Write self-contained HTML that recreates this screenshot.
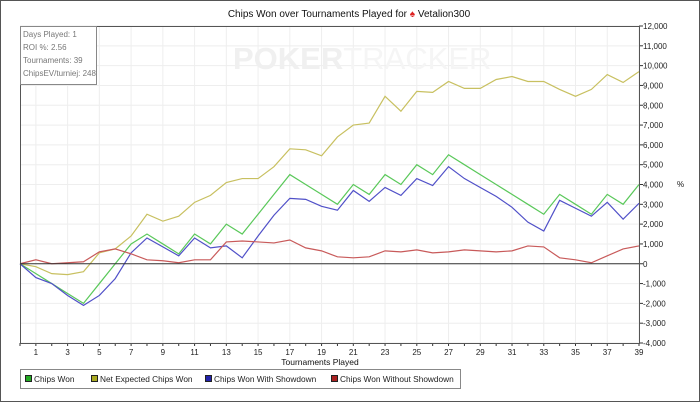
<!DOCTYPE html>
<html><head><meta charset="utf-8"><style>
body{margin:0;background:#fff;font-family:"Liberation Sans",sans-serif}
svg text{font-family:"Liberation Sans",sans-serif}
</style></head><body>
<svg id="c" width="700" height="402" xmlns="http://www.w3.org/2000/svg">
<rect x="0.5" y="0.5" width="699" height="401" fill="#fff" stroke="#555"/>
<text x="349" y="17" font-size="10" text-anchor="middle" fill="#111">Chips Won over Tournaments Played for <tspan fill="#d22">♠</tspan> Vetalion300</text>
<g id="grid"></g>
<text x="233" y="69" font-size="31" font-weight="bold" fill="#f0f0f0">POKER<tspan font-weight="normal" fill="#f5f5f5">TRACKER</tspan></text>
<g id="series"></g>
<g id="axes"></g>
<g>
<rect x="20.5" y="26.5" width="76" height="58" fill="#fff" stroke="#888"/>
<text x="23" y="37" font-size="8" fill="#777">Days Played: 1</text>
<text x="23" y="50" font-size="8" fill="#777">ROI %: 2.56</text>
<text x="23" y="63" font-size="8" fill="#777">Tournaments: 39</text>
<text x="23" y="76" font-size="8" fill="#777">ChipsEV/turniej: 248</text>
</g>
<text x="320" y="365" font-size="8.5" text-anchor="middle" fill="#111">Tournaments Played</text>
<text x="677" y="187" font-size="8" fill="#111">%</text>
<g>
<rect x="20.5" y="369.5" width="440" height="19" fill="#fff" stroke="#888"/>
<g id="legend"></g>
</g>
</svg>
<script>
const categories=[];for(let i=0;i<=39;i++)categories.push(i);
const chipsWon=[0,-500,-1000,-1500,-2000,-1000,0,1000,1500,1000,500,1500,1000,2000,1500,2500,3500,4500,4000,3500,3000,4000,3500,4500,4000,5000,4500,5500,5000,4500,4000,3500,3000,2500,3500,3000,2500,3500,3000,4000];
const netExpected=[0,-150,-500,-550,-400,550,750,1400,2500,2150,2400,3100,3450,4100,4300,4300,4900,5800,5750,5450,6400,7000,7100,8450,7700,8700,8650,9200,8850,8850,9300,9450,9200,9200,8800,8450,8800,9550,9150,9700];
const withShowdown=[0,-700,-1000,-1600,-2100,-1600,-750,550,1300,850,400,1300,800,900,300,1400,2450,3300,3250,2900,2700,3700,3150,3850,3450,4300,3950,4900,4300,3850,3400,2850,2100,1650,3200,2800,2400,3100,2250,3050];
const withoutShowdown=[0,200,0,50,100,600,750,500,200,150,50,200,200,1100,1150,1100,1050,1200,800,650,350,300,350,650,600,700,550,600,700,650,600,650,900,850,300,200,50,400,750,900];
const yTicks=[-4000,-3000,-2000,-1000,0,1000,2000,3000,4000,5000,6000,7000,8000,9000,10000,11000,12000];
const xTicks=[1,3,5,7,9,11,13,15,17,19,21,23,25,27,29,31,33,35,37,39];
const seriesNames=["Chips Won","Net Expected Chips Won","Chips Won With Showdown","Chips Won Without Showdown"];
const NS="http://www.w3.org/2000/svg";
const L=20,R=639,T=26,B=343;
const X=i=>L+(R-L)*i/39;
const Y=v=>B-(B-T)*(v+4000)/16000;
function mk(tag,at,parent){const e=document.createElementNS(NS,tag);for(const k in at)e.setAttribute(k,at[k]);parent.appendChild(e);return e;}
const grid=document.getElementById('grid'),axes=document.getElementById('axes'),ser=document.getElementById('series'),leg=document.getElementById('legend');
yTicks.forEach(v=>{
 const g=mk('line',{x1:L,x2:R,y1:Y(v),y2:Y(v),stroke:'#eee'},grid);
 
 
 mk('line',{x1:R,x2:R+4,y1:Y(v),y2:Y(v),stroke:'#333'},axes);
 const t=mk('text',{x:R+4,y:Y(v)+3,'font-size':'8',fill:'#222'},axes);
 t.textContent=v.toLocaleString('en-US');
 
 
});
xTicks.forEach(i=>{
 const g=mk('line',{x1:X(i),x2:X(i),y1:T,y2:B,stroke:'#eee'},grid);
 
 
 const t=mk('text',{x:X(i),y:B+12,'font-size':'8','text-anchor':'middle',fill:'#222'},axes);
 t.textContent=i;
 
 
});
categories.forEach(i=>{mk('line',{x1:X(i),x2:X(i),y1:B,y2:B+3,stroke:'#333'},axes);});
mk('rect',{x:L+0.5,y:T+0.5,width:R-L,height:B-T,fill:'none',stroke:'#555'},axes);
mk('line',{x1:L,x2:R,y1:Y(0),y2:Y(0),stroke:'#333'},axes);
const data=[chipsWon,netExpected,withShowdown,withoutShowdown];
const colors=['#5ac85a','#c8c060','#5050c8','#c85a5a'];
const sw=['#2a2','#aa2','#22a','#a22'];
const names=['chips-won-line','net-expected-line','with-showdown-line','without-showdown-line'];
[1,0,2,3].forEach(s=>{
 const p=mk('polyline',{points:data[s].map((v,i)=>X(categories[i])+','+Y(v)).join(' '),fill:'none',stroke:colors[s],'stroke-width':'1.2'},ser);
 
 
});
const lx=[25,91,205,331];
seriesNames.forEach((n,s)=>{
 const g=mk('g',{},leg);
 
 
 mk('rect',{x:lx[s]+0.5,y:375.5,width:6,height:6,fill:sw[s],stroke:'#222'},g);
 const t=mk('text',{x:lx[s]+9,y:382,'font-size':'8.3',fill:'#222'},g);
 t.textContent=n;
});
</script>
</body></html>
